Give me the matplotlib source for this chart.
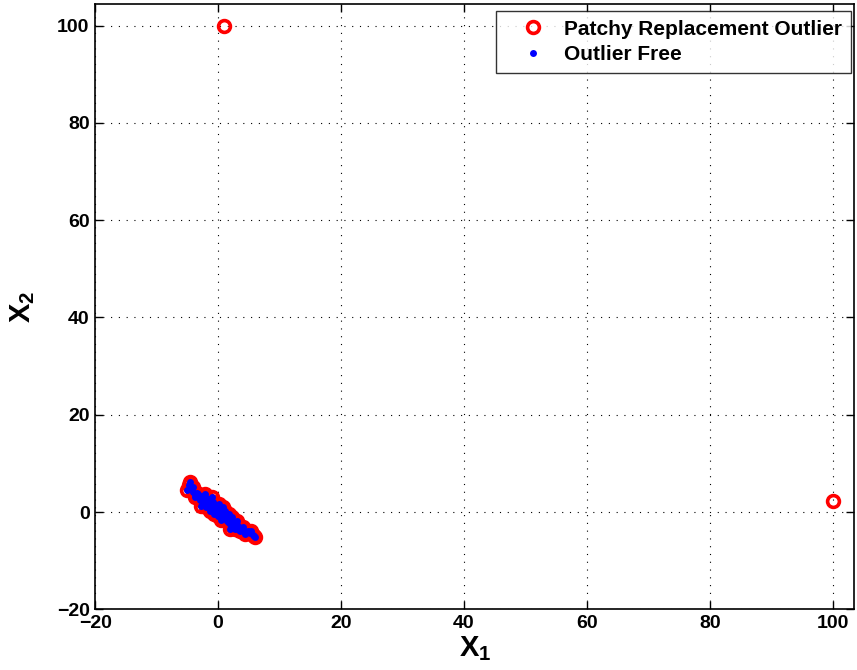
import numpy as np
import matplotlib.pyplot as plt

plt.rcParams['font.family'] = ['Liberation Sans', 'DejaVu Sans']
plt.rcParams['font.weight'] = 'bold'
plt.rcParams['mathtext.fontset'] = 'custom'
plt.rcParams['mathtext.rm'] = 'Liberation Sans:bold'
plt.rcParams['mathtext.bf'] = 'Liberation Sans:bold'

# --- data ---
clean_x = [-4.6, -5.0, -4.3, -4.0, -3.7, -3.3, -3.0, -2.6, -2.3, -2.0,
           -1.8, -1.5, -1.2, -1.0, -0.8, -0.5, -0.3, -0.1, 0.0, 0.2,
           0.4, 0.6, 0.8, 1.0, 1.2, 1.4, 1.6, 1.9, 2.1, 2.3,
           2.6, 2.8, 3.0, 3.3, 3.5, 3.8, 4.1, 4.4, 4.8, 5.2,
           5.6, 6.0, -0.6, 0.1, -1.3, 1.1, -2.8, 2.0, -0.2, 0.5,
           -4.8, -4.1, -3.5, -2.2, -1.6, -0.9, -0.4, 0.3, 0.7, 1.3,
           1.7, 2.4, 2.9, 3.4, 4.0, 4.6, 5.4, -3.8, -1.1, 0.9,
           1.5, 2.2, -2.5, -0.7, 0.0, 3.1, 4.3, 5.8, -1.9, 1.8]
clean_y = [6.2, 4.5, 5.0, 4.2, 3.0, 3.8, 2.5, 3.2, 2.0, 2.8,
           1.5, 2.2, 1.0, 3.0, 1.8, 0.5, 1.2, -0.3, 0.8, -0.8,
           0.2, -0.5, 1.0, -1.2, -0.2, -1.8, -0.9, -1.5, -2.6, -1.0,
           -2.2, -3.5, -1.8, -2.8, -4.0, -3.2, -3.8, -4.6, -3.9, -4.4,
           -4.8, -5.1, -0.4, 1.6, 0.2, 0.3, 1.2, -3.4, 0.0, -1.6,
           5.6, 5.2, 4.0, 3.6, 2.6, 2.0, 0.0, -0.1, 0.6, -1.0,
           -2.2, -3.0, -2.5, -3.6, -3.0, -4.2, -4.0, 3.4, 1.6, -0.6,
           -1.3, -1.8, 2.4, 0.9, -0.9, -3.3, -4.3, -4.9, 1.1, -0.4]

outlier_x = [1.0, 100.0]
outlier_y = [100.0, 2.2]

patchy_x = clean_x + outlier_x
patchy_y = clean_y + outlier_y

fig = plt.figure(figsize=(8.57, 6.7), dpi=100)
ax = fig.add_axes([0.111, 0.0906, 0.886, 0.904])

ax.plot(patchy_x, patchy_y, 'o', color='none', markeredgecolor='red',
        markersize=8.5, markeredgewidth=2.6, label='Patchy Replacement Outlier')
ax.plot(clean_x, clean_y, 'o', color='blue', markersize=5,
        markeredgewidth=0, label='Outlier Free')

ax.set_xlim(-20, 103.5)
ax.set_ylim(-20, 104.5)
ax.set_xticks(np.arange(-20, 101, 20))
ax.set_yticks(np.arange(-20, 101, 20))
ax.grid(True, color='black', linestyle=(0, (1, 6)), linewidth=0.8)
ax.tick_params(direction='in', top=True, right=True, labelsize=14,
               length=6, width=1, pad=4)
for lab in ax.get_xticklabels() + ax.get_yticklabels():
    lab.set_fontweight('bold')
for s in ax.spines.values():
    s.set_linewidth(1.2)

ax.set_xlabel(r'$\mathbf{X}_{\mathbf{1}}$', fontsize=21, labelpad=2)
ax.set_ylabel(r'$\mathbf{X}_{\mathbf{2}}$', fontsize=21, labelpad=14)

leg = ax.legend(loc='upper right', bbox_to_anchor=(851 / 857, 1 - 11 / 670),
                bbox_transform=fig.transFigure, frameon=True, fancybox=False,
                edgecolor='black', borderaxespad=0, borderpad=0.42,
                handlelength=2.7, handletextpad=0.15, labelspacing=0.3,
                prop={'weight': 'bold', 'size': 15})
leg.get_frame().set_linewidth(1.0)

fig.savefig('out.png', dpi=100)
